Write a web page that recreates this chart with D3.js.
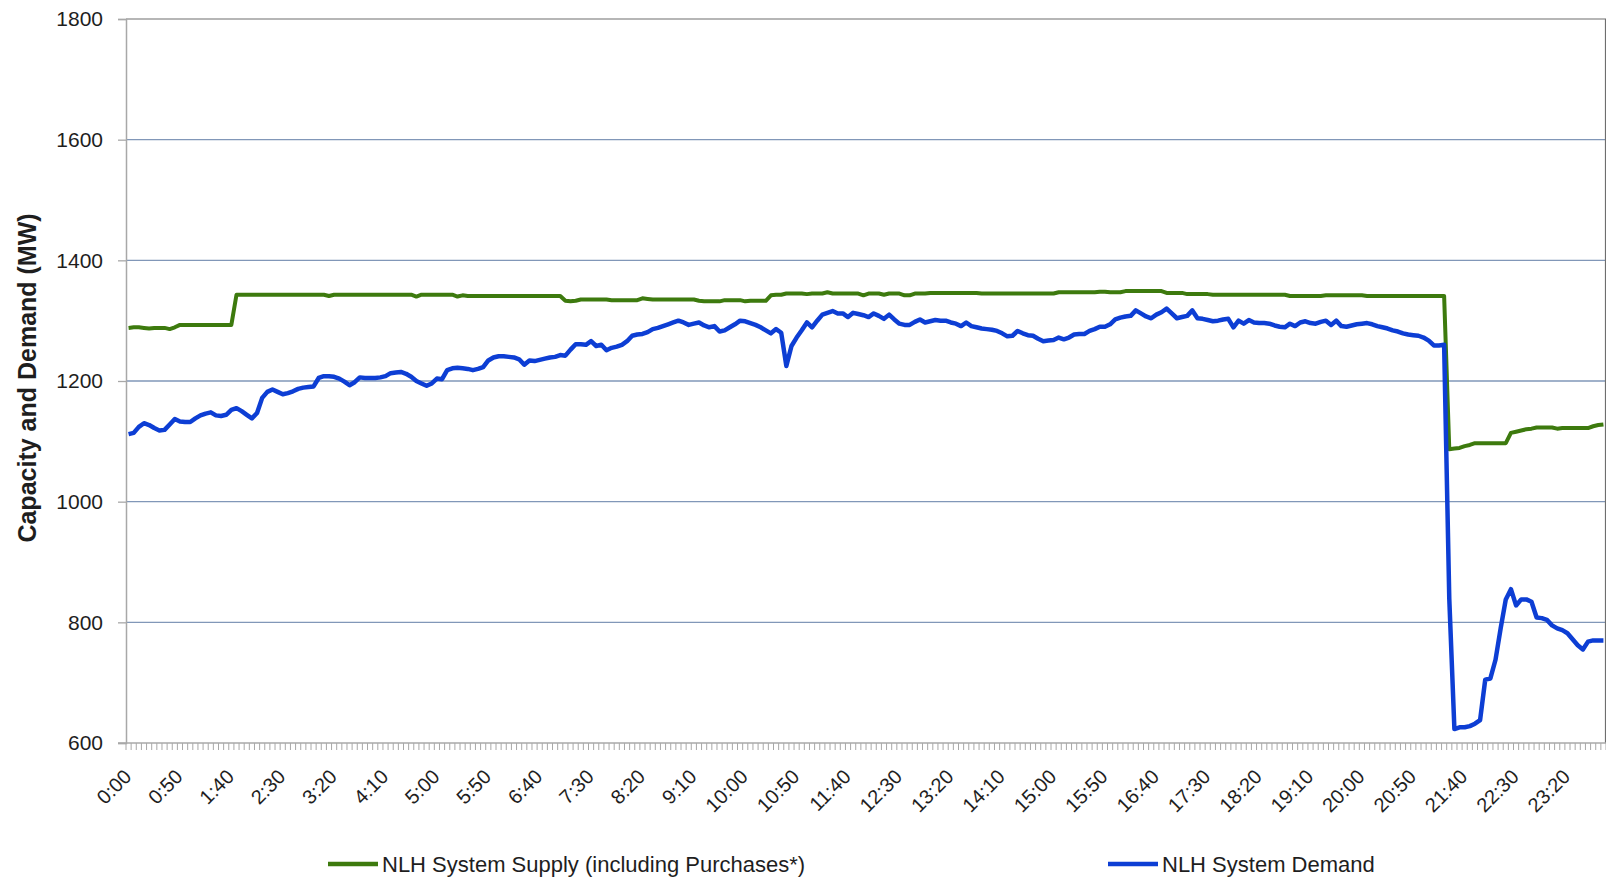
<!DOCTYPE html>
<html lang="en">
  <head>
    <meta charset="utf-8">
    <script src="https://cdnjs.cloudflare.com/ajax/libs/d3/7.8.5/d3.min.js"></script>
    <style>
      body { margin: 0; background: #fff; }
      text { font-family: "Liberation Sans", Arial, sans-serif; fill: #1e1e1e; }
      .grid line { stroke: #8197b8; stroke-width: 1.3; }
      .series { fill: none; stroke-linejoin: round; }
    </style>
  </head>
  <body>
  <script>
  var width = 1606,
      height = 879;

  var margin = { top: 19, right: 0, bottom: 136, left: 126 };

  // 5-minute categories over the day
  var times = d3.range(288).map(function (i) {
    return Math.floor(i * 5 / 60) + ':' + d3.format('02')(i * 5 % 60);
  });

  var yTicks = [600, 800, 1000, 1200, 1400, 1600, 1800];

  var supply = [
    1288,1289,1289,1288,1287,1288,1288,1288,1286,1289,
    1293,1293,1293,1293,1293,1293,1293,1293,1293,1293,
    1293,1343,1343,1343,1343,1343,1343,1343,1343,1343,
    1343,1343,1343,1343,1343,1343,1343,1343,1343,1341,
    1343,1343,1343,1343,1343,1343,1343,1343,1343,1343,
    1343,1343,1343,1343,1343,1343,1340,1343,1343,1343,
    1343,1343,1343,1343,1340,1342,1341,1341,1341,1341,
    1341,1341,1341,1341,1341,1341,1341,1341,1341,1341,
    1341,1341,1341,1341,1341,1333,1332,1333,1335,1335,
    1335,1335,1335,1335,1334,1334,1334,1334,1334,1334,
    1337,1336,1335,1335,1335,1335,1335,1335,1335,1335,
    1335,1333,1332,1332,1332,1332,1334,1334,1334,1334,
    1332,1333,1333,1333,1333,1342,1343,1343,1345,1345,
    1345,1345,1344,1345,1345,1345,1347,1345,1345,1345,
    1345,1345,1345,1342,1345,1345,1345,1343,1345,1345,
    1345,1342,1342,1345,1345,1345,1346,1346,1346,1346,
    1346,1346,1346,1346,1346,1346,1345,1345,1345,1345,
    1345,1345,1345,1345,1345,1345,1345,1345,1345,1345,
    1345,1347,1347,1347,1347,1347,1347,1347,1347,1348,
    1348,1347,1347,1347,1349,1349,1349,1349,1349,1349,
    1349,1349,1346,1346,1346,1346,1344,1344,1344,1344,
    1344,1343,1343,1343,1343,1343,1343,1343,1343,1343,
    1343,1343,1343,1343,1343,1343,1341,1341,1341,1341,
    1341,1341,1341,1342,1342,1342,1342,1342,1342,1342,
    1342,1341,1341,1341,1341,1341,1341,1341,1341,1341,
    1341,1341,1341,1341,1341,1341,1341,1087,1088,1089,
    1092,1094,1097,1097,1097,1097,1097,1097,1097,1114,
    1116,1118,1120,1121,1123,1123,1123,1123,1121,1122,
    1122,1122,1122,1122,1122,1125,1127,1128
  ];

  var demand = [
    1112,1114,1124,1130,1127,1122,1118,1119,1128,1137,
    1133,1132,1132,1138,1143,1146,1148,1143,1142,1144,
    1152,1155,1150,1144,1138,1147,1172,1182,1186,1182,
    1178,1180,1183,1187,1189,1190,1191,1205,1208,1208,
    1207,1204,1199,1193,1198,1206,1205,1205,1205,1206,
    1208,1213,1214,1215,1212,1207,1200,1196,1192,1196,
    1204,1203,1218,1221,1222,1221,1220,1218,1220,1223,
    1234,1239,1241,1241,1240,1239,1236,1227,1234,1233,
    1235,1237,1239,1240,1243,1242,1252,1261,1261,1260,
    1266,1258,1260,1251,1255,1257,1260,1266,1275,1277,
    1278,1281,1286,1288,1291,1294,1297,1300,1297,1293,
    1295,1297,1292,1289,1291,1282,1284,1289,1294,1300,
    1299,1296,1293,1289,1284,1279,1286,1280,1225,1258,
    1272,1284,1297,1289,1300,1310,1313,1316,1312,1312,
    1306,1313,1311,1309,1306,1312,1308,1303,1310,1302,
    1295,1293,1293,1298,1302,1297,1299,1301,1300,1300,
    1297,1295,1291,1297,1291,1289,1287,1286,1285,1283,
    1279,1274,1275,1283,1279,1276,1275,1270,1266,1267,
    1268,1272,1269,1272,1277,1278,1278,1283,1286,1290,
    1290,1294,1302,1305,1307,1308,1317,1312,1307,1304,
    1310,1314,1320,1312,1304,1306,1308,1317,1304,1303,
    1301,1299,1300,1302,1303,1289,1300,1295,1301,1297,
    1296,1296,1295,1292,1290,1289,1295,1291,1297,1299,
    1296,1295,1298,1300,1293,1300,1291,1290,1292,1294,
    1295,1296,1294,1291,1289,1287,1284,1282,1279,1277,
    1276,1275,1272,1267,1259,1259,1260,840,623,626,
    626,628,632,638,705,707,738,790,838,855,
    828,838,838,834,808,807,804,795,790,787,
    782,772,762,755,768,770,770,770
  ];

  var seriesList = [
    { name: 'NLH System Supply (including Purchases*)', values: supply, color: '#3d7a0e', width: 4 },
    { name: 'NLH System Demand', values: demand, color: '#0d3ed4', width: 4.5 }
  ];

  var svg = d3.select('body')
    .append('svg')
    .attr('width', width)
    .attr('height', height);

  var plotW = width - margin.left - margin.right,
      plotH = height - margin.top - margin.bottom;

  var x = d3.scaleBand()
    .domain(times)
    .range([margin.left, margin.left + plotW])
    .padding(0);

  var y = d3.scaleLinear()
    .domain([600, 1800])
    .range([margin.top + plotH, margin.top]);

  // gridlines
  svg.append('g')
    .attr('class', 'grid')
    .selectAll('line')
    .data(yTicks.filter(function (d) { return d > 600 && d < 1800; }))
    .enter().append('line')
      .attr('x1', margin.left)
      .attr('x2', margin.left + plotW)
      .attr('y1', function (d) { return y(d); })
      .attr('y2', function (d) { return y(d); });

  // plot border top / right
  svg.append('path')
    .attr('d', 'M' + margin.left + ',' + y(1800) + 'H' + (margin.left + plotW - 0.5) + 'V' + y(600))
    .attr('fill', 'none')
    .attr('stroke', '#6e6e6e')
    .attr('stroke-width', 1.2);

  // y axis
  var yAxis = d3.axisLeft(y)
    .tickValues(yTicks)
    .tickFormat(d3.format('d'))
    .tickSize(8)
    .tickPadding(15);

  var gy = svg.append('g')
    .attr('transform', 'translate(' + margin.left + ',0)')
    .call(yAxis);
  gy.select('.domain').attr('stroke', '#a8a8a8').attr('stroke-width', 1.5);
  gy.selectAll('.tick line').attr('stroke', '#a8a8a8').attr('stroke-width', 1.3);
  gy.selectAll('.tick text')
    .style('font-size', '21px')
    .style('font-family', '"Liberation Sans", Arial, sans-serif')
    .attr('fill', '#1e1e1e');

  // x axis: tick at every category boundary
  var xBase = y(600);
  var bounds = times.map(function (t) { return x(t); }).concat([margin.left + plotW]);

  var gx = svg.append('g').attr('class', 'x-axis');
  gx.selectAll('line.tk')
    .data(bounds)
    .enter().append('line')
      .attr('class', 'tk')
      .attr('x1', function (d) { return d; })
      .attr('x2', function (d) { return d; })
      .attr('y1', xBase)
      .attr('y2', xBase + 7)
      .attr('stroke', '#a8a8a8')
      .attr('stroke-width', 1);
  gx.append('line')
    .attr('x1', margin.left - 8)
    .attr('x2', margin.left + plotW)
    .attr('y1', xBase)
    .attr('y2', xBase)
    .attr('stroke', '#a8a8a8')
    .attr('stroke-width', 1.5);

  gx.selectAll('text')
    .data(times.filter(function (t, i) { return i % 10 === 0; }))
    .enter().append('text')
      .attr('transform', function (d) {
        return 'translate(' + (x(d) + x.bandwidth() / 2 + 4) + ',' + (xBase + 35) + ') rotate(-45)';
      })
      .attr('text-anchor', 'end')
      .style('font-size', '20px')
      .text(function (d) { return d; });

  // y axis title
  svg.append('text')
    .attr('transform', 'translate(36,' + 378 + ') rotate(-90)')
    .attr('text-anchor', 'middle')
    .style('font-size', '25px')
    .style('font-weight', 'bold')
    .text('Capacity and Demand (MW)');

  // lines
  var line = d3.line()
    .x(function (d, i) { return x(times[i]) + x.bandwidth() / 2; })
    .y(function (d) { return y(d); });

  svg.append('g')
    .selectAll('path')
    .data(seriesList)
    .enter().append('path')
      .attr('class', 'series')
      .attr('d', function (d) { return line(d.values); })
      .attr('stroke', function (d) { return d.color; })
      .attr('stroke-width', function (d) { return d.width; });

  // legend
  var legendX = [328, 1108];
  var legend = svg.append('g')
    .selectAll('g')
    .data(seriesList)
    .enter().append('g')
      .attr('transform', function (d, i) { return 'translate(' + legendX[i] + ',864)'; });

  legend.append('line')
    .attr('x1', 0)
    .attr('x2', 50)
    .attr('stroke', function (d) { return d.color; })
    .attr('stroke-width', 4.5);

  legend.append('text')
    .attr('x', 54)
    .attr('dy', '0.35em')
    .style('font-size', '22px')
    .text(function (d) { return d.name; });
  </script>
  </body>
</html>
